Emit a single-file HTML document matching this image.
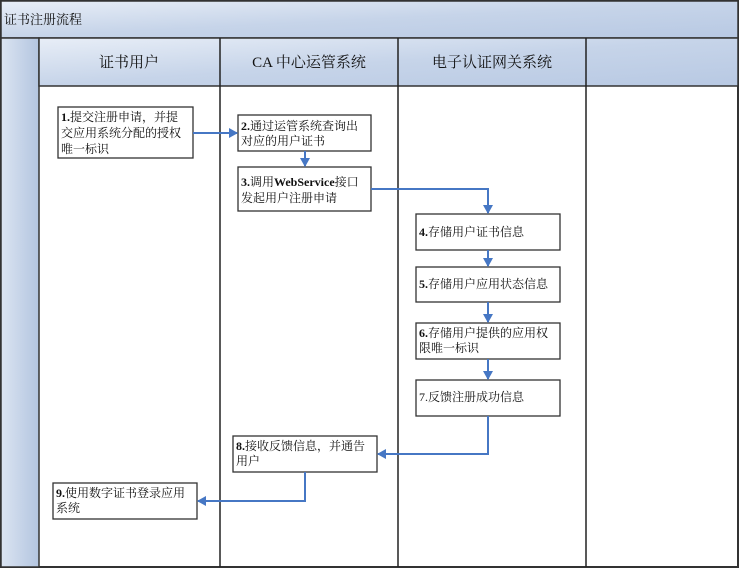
<!DOCTYPE html>
<html><head><meta charset="utf-8"><style>
body{margin:0;background:#fff;}
svg text{font-family:"Liberation Serif","Noto Serif CJK SC","Noto Sans CJK SC",serif;fill:#111;}
</style></head><body>
<svg width="744" height="569" viewBox="0 0 744 569" xmlns="http://www.w3.org/2000/svg">
<defs>
<linearGradient id="hg" x1="0" y1="0" x2="1" y2="1">
<stop offset="0" stop-color="#e8eef7"/><stop offset="0.5" stop-color="#c6d4e9"/><stop offset="1" stop-color="#b8c9e3"/></linearGradient>
<linearGradient id="lg" x1="0" y1="0" x2="1" y2="0">
<stop offset="0" stop-color="#dbe4f1"/><stop offset="1" stop-color="#b3c5e0"/></linearGradient>
<marker id="a" markerWidth="10" markerHeight="10" refX="8" refY="5" orient="auto" markerUnits="userSpaceOnUse">
<path d="M0,0 L9,5 L0,10 z" fill="#4677c4"/></marker>
</defs>
<rect x="1" y="1" width="737" height="566" fill="#fff" stroke="#333" stroke-width="2"/>
<rect x="1" y="1" width="737" height="37" fill="url(#hg)" stroke="#333" stroke-width="1.5"/>
<text x="4" y="24" font-size="13" font-family="Liberation Sans,Noto Sans CJK SC,sans-serif">证书注册流程</text>
<rect x="1" y="38" width="38" height="529" fill="url(#lg)" stroke="#333" stroke-width="1.5"/>
<rect x="39" y="38" width="699" height="48" fill="url(#hg)" stroke="#333" stroke-width="1.5"/>
<g stroke="#222" stroke-width="1.5">
<line x1="220" y1="38" x2="220" y2="567"/>
<line x1="398" y1="38" x2="398" y2="567"/>
<line x1="586" y1="38" x2="586" y2="567"/>
</g>
<g font-size="15" text-anchor="middle">
<text x="129" y="67">证书用户</text>
<text x="309" y="67">CA 中心运管系统</text>
<text x="492" y="67">电子认证网关系统</text>
</g>
<g fill="#fff" stroke="#333" stroke-width="1.3">
<rect x="58" y="107" width="135" height="51"/>
<rect x="238" y="115" width="133" height="36"/>
<rect x="238" y="167" width="133" height="44"/>
<rect x="416" y="214" width="144" height="36"/>
<rect x="416" y="267" width="144" height="35"/>
<rect x="416" y="323" width="144" height="36"/>
<rect x="416" y="380" width="144" height="36"/>
<rect x="233" y="436" width="144" height="36"/>
<rect x="53" y="483" width="144" height="36"/>
</g>
<g font-size="12">
<text x="61" y="121"><tspan font-weight="bold">1.</tspan>提交注册申请，并提</text>
<text x="61" y="137">交应用系统分配的授权</text>
<text x="61" y="153">唯一标识</text>
<text x="241" y="130"><tspan font-weight="bold">2.</tspan>通过运管系统查询出</text>
<text x="241" y="145">对应的用户证书</text>
<text x="241" y="186"><tspan font-weight="bold">3.</tspan>调用<tspan font-weight="bold">WebService</tspan>接口</text>
<text x="241" y="202">发起用户注册申请</text>
<text x="419" y="236"><tspan font-weight="bold">4.</tspan>存储用户证书信息</text>
<text x="419" y="288"><tspan font-weight="bold">5.</tspan>存储用户应用状态信息</text>
<text x="419" y="337"><tspan font-weight="bold">6.</tspan>存储用户提供的应用权</text>
<text x="419" y="352">限唯一标识</text>
<text x="419" y="401">7.反馈注册成功信息</text>
<text x="236" y="450"><tspan font-weight="bold">8.</tspan>接收反馈信息，并通告</text>
<text x="236" y="465">用户</text>
<text x="56" y="497"><tspan font-weight="bold">9.</tspan>使用数字证书登录应用</text>
<text x="56" y="512">系统</text>
</g>
<g stroke="#4677c4" stroke-width="2" fill="none" marker-end="url(#a)">
<path d="M193,133 H237"/>
<path d="M305,151 V166"/>
<path d="M371,189 H488 V213"/>
<path d="M488,250 V266"/>
<path d="M488,302 V322"/>
<path d="M488,359 V379"/>
<path d="M488,416 V454 H378"/>
<path d="M305,472 V501 H198"/>
</g>
</svg>
</body></html>
